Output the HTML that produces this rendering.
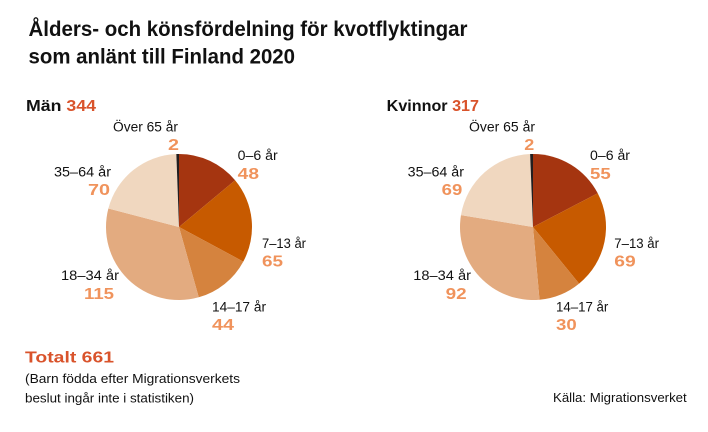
<!DOCTYPE html>
<html>
<head>
<meta charset="utf-8">
<style>
  html, body { margin: 0; padding: 0; background: #ffffff; }
  body { width: 708px; height: 432px; overflow: hidden; }
  svg { display: block; }
  text { font-family: "Liberation Sans", Arial, sans-serif; }
  .t { font-weight: bold; font-size: 21px; fill: #111; }
  .h { font-weight: bold; font-size: 15.5px; fill: #111; }
  .lbl { font-size: 13.5px; fill: #111; }
  .num { font-weight: bold; font-size: 16px; fill: #f0935c; }
  .red { fill: #d9532b; }
  .note { font-size: 13px; fill: #111; }
</style>
</head>
<body>
<svg width="708" height="432" viewBox="0 0 708 432" xmlns="http://www.w3.org/2000/svg">
  <rect width="708" height="432" fill="#ffffff"/>

  <!-- Title -->
  <text class="t" x="28.5" y="36" textLength="439" lengthAdjust="spacingAndGlyphs">Ålders- och könsfördelning för kvotflyktingar</text>
  <text class="t" x="28.5" y="63.5" textLength="266.5" lengthAdjust="spacingAndGlyphs">som anlänt till Finland 2020</text>

  <!-- Men header -->
  <text class="h" x="26" y="111" textLength="70" lengthAdjust="spacingAndGlyphs">Män <tspan class="red">344</tspan></text>

  <!-- Men pie: center (179,227) r 73 -->
  <g stroke="none">
    <path d="M179,227 L179,154 A73,73 0 0,1 235.10,180.29 Z" fill="#a53510"/>
    <path d="M179,227 L235.10,180.29 A73,73 0 0,1 243.29,261.57 Z" fill="#c75a00"/>
    <path d="M179,227 L243.29,261.57 A73,73 0 0,1 198.75,297.28 Z" fill="#d5833e"/>
    <path d="M179,227 L198.75,297.28 A73,73 0 0,1 108.37,208.54 Z" fill="#e3ab80"/>
    <path d="M179,227 L108.37,208.54 A73,73 0 0,1 176.34,154.05 Z" fill="#f0d7bf"/>
    <path d="M179,227 L176.34,154.05 A73,73 0 0,1 179,154 Z" fill="#231f20"/>
  </g>

  <!-- Men labels -->
  <text class="lbl" x="113" y="131.7" textLength="65" lengthAdjust="spacingAndGlyphs">Över 65 år</text>
  <text class="num" x="168" y="150" textLength="11" lengthAdjust="spacingAndGlyphs">2</text>
  <text class="lbl" x="237.7" y="160" textLength="40" lengthAdjust="spacingAndGlyphs">0–6 år</text>
  <text class="num" x="237.7" y="179" textLength="21.3" lengthAdjust="spacingAndGlyphs">48</text>
  <text class="lbl" x="54" y="176.7" textLength="57" lengthAdjust="spacingAndGlyphs">35–64 år</text>
  <text class="num" x="88" y="195" textLength="22" lengthAdjust="spacingAndGlyphs">70</text>
  <text class="lbl" x="262" y="248" textLength="44" lengthAdjust="spacingAndGlyphs">7–13 år</text>
  <text class="num" x="262" y="266.7" textLength="21" lengthAdjust="spacingAndGlyphs">65</text>
  <text class="lbl" x="61" y="280" textLength="58" lengthAdjust="spacingAndGlyphs">18–34 år</text>
  <text class="num" x="84" y="299" textLength="30" lengthAdjust="spacingAndGlyphs">115</text>
  <text class="lbl" x="212" y="311.7" textLength="54" lengthAdjust="spacingAndGlyphs">14–17 år</text>
  <text class="num" x="212" y="330" textLength="22" lengthAdjust="spacingAndGlyphs">44</text>

  <!-- Women header -->
  <text class="h" x="386.7" y="111" textLength="92.3" lengthAdjust="spacingAndGlyphs">Kvinnor <tspan class="red">317</tspan></text>

  <!-- Women pie: center (533,227) r 73 -->
  <g stroke="none">
    <path d="M533,227 L533,154 A73,73 0 0,1 597.74,193.24 Z" fill="#a53510"/>
    <path d="M533,227 L597.74,193.24 A73,73 0 0,1 579.11,283.59 Z" fill="#c75a00"/>
    <path d="M533,227 L579.11,283.59 A73,73 0 0,1 539.50,299.71 Z" fill="#d5833e"/>
    <path d="M533,227 L539.50,299.71 A73,73 0 0,1 460.97,215.11 Z" fill="#e3ab80"/>
    <path d="M533,227 L460.97,215.11 A73,73 0 0,1 530.11,154.06 Z" fill="#f0d7bf"/>
    <path d="M533,227 L530.11,154.06 A73,73 0 0,1 533,154 Z" fill="#231f20"/>
  </g>

  <!-- Women labels -->
  <text class="lbl" x="469" y="131.7" textLength="66" lengthAdjust="spacingAndGlyphs">Över 65 år</text>
  <text class="num" x="524.3" y="150" textLength="10" lengthAdjust="spacingAndGlyphs">2</text>
  <text class="lbl" x="590" y="160" textLength="40" lengthAdjust="spacingAndGlyphs">0–6 år</text>
  <text class="num" x="590" y="179" textLength="20.7" lengthAdjust="spacingAndGlyphs">55</text>
  <text class="lbl" x="407.7" y="176.7" textLength="56.3" lengthAdjust="spacingAndGlyphs">35–64 år</text>
  <text class="num" x="441.7" y="195" textLength="20.6" lengthAdjust="spacingAndGlyphs">69</text>
  <text class="lbl" x="614.3" y="248" textLength="44.7" lengthAdjust="spacingAndGlyphs">7–13 år</text>
  <text class="num" x="614.3" y="266.7" textLength="21.4" lengthAdjust="spacingAndGlyphs">69</text>
  <text class="lbl" x="413.3" y="280" textLength="57.7" lengthAdjust="spacingAndGlyphs">18–34 år</text>
  <text class="num" x="445.7" y="299" textLength="21" lengthAdjust="spacingAndGlyphs">92</text>
  <text class="lbl" x="556" y="311.7" textLength="52.3" lengthAdjust="spacingAndGlyphs">14–17 år</text>
  <text class="num" x="556" y="330" textLength="20.7" lengthAdjust="spacingAndGlyphs">30</text>

  <!-- Footer -->
  <text class="h red" x="25" y="362.7" textLength="89" lengthAdjust="spacingAndGlyphs" style="font-size:16px">Totalt 661</text>
  <text class="note" x="25" y="383" textLength="215" lengthAdjust="spacingAndGlyphs">(Barn födda efter Migrationsverkets</text>
  <text class="note" x="25" y="402.5" textLength="169" lengthAdjust="spacingAndGlyphs">beslut ingår inte i statistiken)</text>
  <text class="note" x="553" y="402" textLength="133.7" lengthAdjust="spacingAndGlyphs">Källa: Migrationsverket</text>
</svg>
</body>
</html>
